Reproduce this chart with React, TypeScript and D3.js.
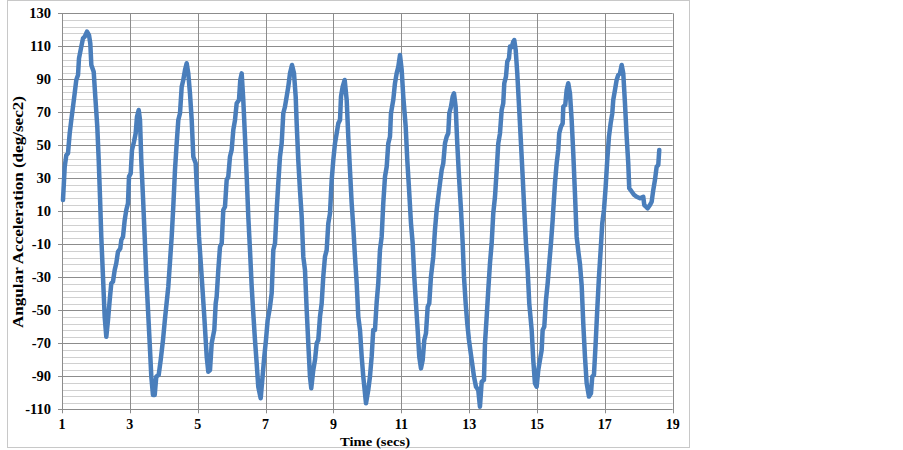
import React, { useEffect, useRef } from 'react';
import * as d3 from 'd3';

// time (s)
const timeSecs = [
  1.029, 1.08, 1.127, 1.177, 1.227, 1.274, 1.324, 1.374, 1.421, 1.472, 1.501, 1.569, 1.619, 1.669, 1.737, 1.796,
  1.834, 1.864, 1.934, 1.981, 2.04, 2.082, 2.12, 2.158, 2.208, 2.258, 2.306, 2.356, 2.406, 2.453, 2.503, 2.553,
  2.6, 2.65, 2.718, 2.748, 2.798, 2.848, 2.895, 2.945, 2.975, 3.025, 3.063, 3.122, 3.172, 3.21, 3.261, 3.299,
  3.337, 3.387, 3.437, 3.485, 3.535, 3.585, 3.632, 3.682, 3.732, 3.779, 3.85, 3.909, 3.977, 4.036, 4.133,
  4.233, 4.28, 4.33, 4.38, 4.428, 4.478, 4.528, 4.575, 4.625, 4.675, 4.722, 4.772, 4.823, 4.87, 4.94, 4.988,
  5.038, 5.117, 5.194, 5.265, 5.312, 5.362, 5.412, 5.489, 5.53, 5.559, 5.607, 5.657, 5.707, 5.754, 5.804, 5.854,
  5.901, 5.951, 6.001, 6.049, 6.099, 6.149, 6.217, 6.255, 6.296, 6.343, 6.393, 6.444, 6.491, 6.541, 6.591, 6.638,
  6.688, 6.738, 6.785, 6.856, 6.903, 6.962, 7.012, 7.062, 7.13, 7.18, 7.228, 7.278, 7.328, 7.375, 7.425, 7.475,
  7.522, 7.572, 7.622, 7.67, 7.72, 7.779, 7.838, 7.888, 7.917, 7.964, 8.014, 8.065, 8.112, 8.162, 8.212, 8.259,
  8.309, 8.347, 8.406, 8.457, 8.507, 8.554, 8.604, 8.654, 8.701, 8.751, 8.801, 8.849, 8.899, 8.949, 8.996, 9.046,
  9.096, 9.144, 9.194, 9.223, 9.273, 9.332, 9.391, 9.438, 9.488, 9.538, 9.585, 9.635, 9.686, 9.733, 9.783, 9.833,
  9.88, 9.96, 10.027, 10.077, 10.127, 10.174, 10.224, 10.275, 10.322, 10.372, 10.422, 10.469, 10.52, 10.57, 10.617,
  10.667, 10.696, 10.764, 10.814, 10.864, 10.912, 10.962, 11.012, 11.059, 11.13, 11.177, 11.236, 11.286, 11.336,
  11.383, 11.433, 11.483, 11.53, 11.581, 11.631, 11.678, 11.728, 11.778, 11.825, 11.875, 11.943, 11.993, 12.043,
  12.091, 12.141, 12.191, 12.238, 12.288, 12.338, 12.385, 12.415, 12.465, 12.515, 12.553, 12.603, 12.65, 12.701,
  12.76, 12.81, 12.848, 12.898, 12.945, 12.995, 13.075, 13.143, 13.202, 13.269, 13.319, 13.37, 13.437, 13.467,
  13.517, 13.564, 13.614, 13.664, 13.711, 13.762, 13.812, 13.859, 13.909, 13.959, 14.006, 14.036, 14.086, 14.124,
  14.174, 14.204, 14.254, 14.301, 14.33, 14.372, 14.419, 14.477, 14.528, 14.578, 14.625, 14.675, 14.725, 14.772,
  14.843, 14.89, 14.94, 14.99, 15.038, 15.088, 15.138, 15.167, 15.215, 15.265, 15.315, 15.362, 15.412, 15.462,
  15.48, 15.53, 15.58, 15.627, 15.656, 15.707, 15.757, 15.775, 15.833, 15.875, 15.922, 15.972, 16.022, 16.069,
  16.119, 16.169, 16.222, 16.267, 16.317, 16.364, 16.414, 16.464, 16.532, 16.591, 16.629, 16.679, 16.729, 16.776,
  16.827, 16.877, 16.924, 16.974, 17.024, 17.071, 17.121, 17.171, 17.219, 17.248, 17.298, 17.348, 17.395, 17.445,
  17.496, 17.543, 17.593, 17.643, 17.69, 17.719, 17.79, 17.858, 17.938, 18.035, 18.132, 18.162, 18.212, 18.262,
  18.33, 18.38, 18.427, 18.477, 18.527, 18.575, 18.604,
];

// angular acceleration (deg/sec2)
const angularAccel = [
  16.8, 37, 44, 45.2, 57.3, 65.3, 73.4, 81.5, 89.6, 92.6, 102.7, 109.8, 114.8, 115.8, 118.9, 116.8,
  111.8, 98.7, 94.6, 79.5, 61.3, 41, 18.8, -5.4, -29.6, -53.9, -66, -55.9, -43.8, -33.6, -32.6, -25.6,
  -21.5, -14.5, -12.5, -7.4, -5.4, 4.7, 10.8, 14.8, 31, 33, 47.2, 52.2, 57.3, 67.3, 71.4, 65.3,
  41, 18.8, -5.4, -29.6, -49.8, -70, -90.2, -101.3, -101.3, -90.2, -89.2, -80.1, -68, -55, -35.7,
  -5.4, 12.8, 35, 51.2, 65.3, 69.4, 85.5, 89.6, 95.6, 99.7, 93.6, 81.5, 65.3, 43.1, 39.1, 18.8,
  -5.4, -29.6, -53.9, -78.1, -87.2, -86.2, -70, -61.9, -45.8, -41.7, -25.6, -11.5, -9.4, 10.8, 12.8, 29,
  31, 43.1, 47.2, 59.3, 65.3, 75.5, 77.5, 89.6, 93.6, 77.5, 55.2, 31, 6.7, -13.5, -35.7, -51.8,
  -68, -82.1, -96.3, -103.3, -92.2, -78.1, -68, -55.9, -48, -39.7, -13.5, -9.4, 10.8, 27, 43.1, 51.2,
  69.4, 73.4, 79.5, 85.5, 93.6, 98.7, 93.6, 79.5, 63.3, 41, 22.9, 6.7, -17.5, -25.6, -49.8, -70,
  -90.2, -97.3, -86.2, -80.1, -70, -68, -53.9, -45.8, -29.6, -17.5, -13.5, 2.7, 8.8, 29, 41, 51.2,
  57.3, 63.3, 65.3, 79.5, 85.5, 89.6, 77.5, 55.2, 35, 14.8, 0.7, -17.5, -33.6, -53.9, -61.9, -78.1,
  -90.2, -106.4, -98.3, -90.2, -78.1, -61.9, -62, -45, -33.6, -13.5, -5.4, 14.8, 31, 37, 51.2,
  55.2, 69.4, 77.5, 87.6, 93.6, 97.6, 104.7, 95.6, 79.5, 61.3, 41, 20.9, 2.7, -9.4,
  -29.6, -45.8, -61.9, -78.1, -85.2, -80.1, -68, -63.9, -47.8, -45.8, -29.6, -17.5, -1.3, 10.8,
  18.8, 27, 35, 39.1, 51.2, 55.2, 57.3, 69.4, 73.4, 79.5, 81.5, 73.4, 51.2, 31,
  10.8, -9.4, -29.6, -45.8, -57.9, -68, -80.1, -90.2, -96.3, -98.3, -108.4, -93.3, -92.2, -70,
  -53.9, -37.7, -21.5, -9.4, 8.8, 18.8, 35, 51.2, 57.3, 71.4, 75.5, 87.6, 91.6, 100.7,
  102.7, 109.8, 109.5, 112.8, 113.8, 107.8, 93.6, 71.4, 51.2, 31, 10.8, -9.4, -25.6, -45.8,
  -61.9, -80.1, -94.2, -96.3, -86.2, -80.1, -74.1, -61.9, -59.9, -43.8, -33.6, -21.5, -9.4, 4.7,
  10.8, 27, 39.1, 47.2, 57.3, 61.3, 63.3, 73.4, 74.5, 83.5, 87.6, 81.5, 65.3, 45.2,
  20.9, -5.4, -15, -22, -35, -57.9, -78.1, -94.2, -102.3, -100.3, -90.2, -89.2, -70, -49.8,
  -29.6, -13.5, 2.7, 10.8, 24.9, 41, 55.2, 63.3, 69.4, 77.5, 83.5, 89.6, 92.6, 93.6,
  98.7, 93.6, 75.5, 55.2, 39.1, 24, 22, 20, 18.8, 17.9, 18.8, 13.8, 12.8, 11.8,
  13.8, 15.8, 22.9, 29, 37, 38.1, 47.2,
];

const xTickLabels = [1, 3, 5, 7, 9, 11, 13, 15, 17, 19];
const yTickLabels = [-110, -90, -70, -50, -30, -10, 10, 30, 50, 70, 90, 110, 130];

export default function App() {
  const svgRef = useRef<SVGSVGElement>(null);

  useEffect(() => {
    const svg = d3.select(svgRef.current);
    svg.selectAll('*').remove();

    const x = d3.scaleLinear().domain([1, 19]).range([62, 672.7]);
    const y = d3.scaleLinear().domain([-110, 130]).range([409.3, 13.3]);
    const font = '"Liberation Serif", "Times New Roman", serif';

    // chart area border
    svg.append('rect')
      .attr('x', 7.5).attr('y', 0.5)
      .attr('width', 682).attr('height', 447)
      .attr('fill', '#fff')
      .attr('stroke', '#c8c8c8');

    // minor horizontal gridlines every 4
    const minor = d3.range(-110, 130.1, 4).filter(v => (v + 110) % 20 !== 0);
    svg.append('g').selectAll('line').data(minor).join('line')
      .attr('x1', x(1)).attr('x2', x(19))
      .attr('y1', d => Math.round(y(d)) + 0.5).attr('y2', d => Math.round(y(d)) + 0.5)
      .attr('stroke', '#d0d0d0').attr('stroke-width', 1);

    // major gridlines
    svg.append('g').selectAll('line').data(yTickLabels).join('line')
      .attr('x1', x(1) - 4).attr('x2', x(19))
      .attr('y1', d => Math.round(y(d)) + 0.5).attr('y2', d => Math.round(y(d)) + 0.5)
      .attr('stroke', '#8c8c8c').attr('stroke-width', 1);

    svg.append('g').selectAll('line').data(xTickLabels).join('line')
      .attr('x1', d => Math.round(x(d)) + 0.5).attr('x2', d => Math.round(x(d)) + 0.5)
      .attr('y1', y(130)).attr('y2', y(-110) + 4)
      .attr('stroke', '#8c8c8c').attr('stroke-width', 1);

    // tick labels
    svg.append('g').selectAll('text').data(yTickLabels).join('text')
      .attr('x', 51).attr('y', d => y(d))
      .attr('dy', '0.35em')
      .attr('text-anchor', 'end')
      .attr('font-family', font).attr('font-weight', 'bold').attr('font-size', 14.5)
      .text(d => d);

    svg.append('g').selectAll('text').data(xTickLabels).join('text')
      .attr('x', d => x(d)).attr('y', 429)
      .attr('text-anchor', 'middle')
      .attr('font-family', font).attr('font-weight', 'bold').attr('font-size', 14)
      .text(d => d);

    // axis titles
    svg.append('text')
      .attr('x', 375).attr('y', 446)
      .attr('text-anchor', 'middle')
      .attr('font-family', font).attr('font-weight', 'bold').attr('font-size', 13.5)
      .attr('textLength', 70).attr('lengthAdjust', 'spacingAndGlyphs')
      .text('Time (secs)');

    svg.append('text')
      .attr('transform', `translate(23,212) rotate(-90)`)
      .attr('text-anchor', 'middle')
      .attr('font-family', font).attr('font-weight', 'bold').attr('font-size', 14.5)
      .attr('textLength', 232).attr('lengthAdjust', 'spacingAndGlyphs')
      .text('Angular Acceleration (deg/sec2)');

    // trace
    const line = d3.line<number>()
      .x((_, i) => x(timeSecs[i]))
      .y(d => y(d));

    svg.append('path')
      .datum(angularAccel)
      .attr('d', line)
      .attr('fill', 'none')
      .attr('stroke', '#4a7ebb')
      .attr('stroke-width', 4.5)
      .attr('stroke-linejoin', 'round')
      .attr('stroke-linecap', 'round');
  }, []);

  return (
    <svg ref={svgRef} width={903} height={450}
      style={{ position: 'absolute', left: 0, top: 0, background: '#fff' }} />
  );
}
